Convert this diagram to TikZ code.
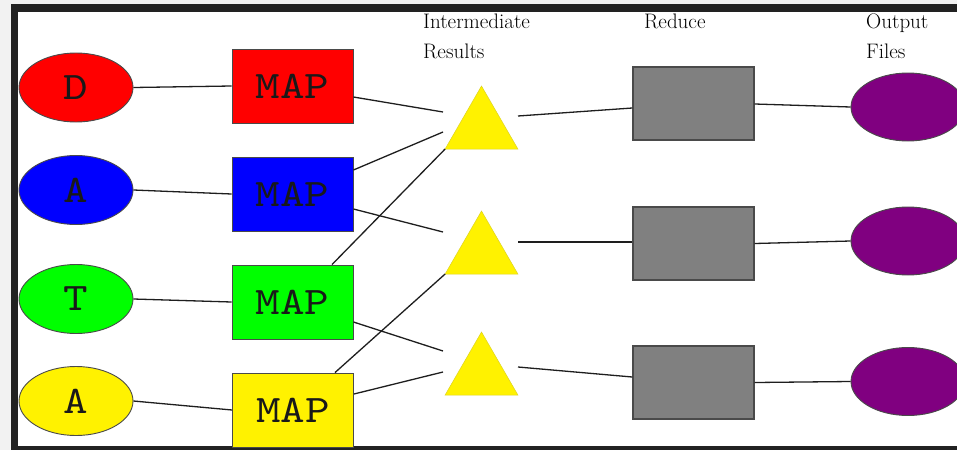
\documentclass[tikz,border=0pt]{standalone}
\usepackage{fontspec}
\newfontfamily\mapfont{lmmono10-regular}[Extension=.otf, FakeStretch=1.2]
\usetikzlibrary{shapes.geometric,calc}
\definecolor{framec}{HTML}{222222}
\definecolor{outerbg}{HTML}{F2F2F2}
\definecolor{edgec}{HTML}{4A4A4A}
\definecolor{linec}{HTML}{1E1E1E}
\definecolor{purp}{HTML}{800080}
\definecolor{redgray}{HTML}{808080}
\tikzset{
  inbox/.style={ellipse, draw=edgec, line width=0.9pt, minimum width=114pt, minimum height=69pt, inner sep=0pt,
    font=\mapfont\fontsize{39}{39}\selectfont, text=black!90},
  mapbox/.style={rectangle, draw=edgec, line width=0.9pt, minimum width=121pt, minimum height=74pt, inner sep=0pt,
    font=\mapfont\fontsize{39}{39}\selectfont, text=black!90},
  redbox/.style={rectangle, draw=edgec, fill=redgray, line width=1.4pt, minimum width=121pt, minimum height=73pt, inner sep=0pt},
  outell/.style={ellipse, draw=edgec, fill=purp, line width=0.9pt, minimum width=114pt, minimum height=68pt, inner sep=0pt},
  tri/.style={regular polygon, regular polygon sides=3, fill=yellow, draw=yellow!85!black, line width=0.5pt,
    minimum size=84pt, inner sep=0pt, outer sep=0pt},
  conn/.style={draw=linec, line width=1.3pt},
  lab/.style={anchor=base west, inner sep=0pt, text=black, font=\fontsize{21}{30}\selectfont}
}
\begin{document}
\begin{tikzpicture}[x=1pt,y=-1pt]
\useasboundingbox (0,0) rectangle (957,450);
\fill[outerbg] (0,0) rectangle (957,450);
\fill[framec] (11,4) rectangle (957,450);
\fill[white] (18,12) rectangle (957,446);

% input ellipses
\node[inbox, fill=red] (e1) at (76,87.5) {D};
\node[inbox, fill=blue] (e2) at (76,190) {A};
\node[inbox, fill=green] (e3) at (76,299) {T};
\node[inbox, fill=yellow] (e4) at (76,401) {A};

% map boxes
\node[mapbox, fill=red] (m1) at (292.5,86) {MAP};
\node[mapbox, fill=blue] (m2) at (292.5,194) {MAP};
\node[mapbox, fill=green] (m3) at (292.5,302) {MAP};
\node[mapbox, fill=yellow] (m4) at (293,410) {MAP};

% triangles
\node[tri] (t1) at (481.5,128) {};
\node[tri] (t2) at (481.5,253) {};
\node[tri] (t3) at (481.5,374) {};

% reduce boxes
\node[redbox] (r1) at (693.5,103.5) {};
\node[redbox] (r2) at (693.5,243.5) {};
\node[redbox] (r3) at (693.5,382.5) {};

% output ellipses
\node[outell] (o1) at (908,107) {};
\node[outell] (o2) at (908,241) {};
\node[outell] (o3) at (908,381.5) {};

% labels
\node[lab] (l1) at (423,28) {Intermediate};
\node[lab] (l2) at (423,58) {Results};
\node[lab] (l3) at (644,28) {Reduce};
\node[lab] (l4) at (866,28) {Output};
\node[lab] (l5) at (866,58) {Files};

% free ends near triangles
\coordinate (i1) at (443,112);
\coordinate (i2) at (443,132);
\coordinate (i3) at (443,232);
\coordinate (i4) at (443,351);
\coordinate (i5) at (443,372);
\coordinate (q1) at (518,116);
\coordinate (q2) at (518,242);
\coordinate (q3) at (518,367);

% connectors: inputs to map
\draw[conn] (e1.east) -- (m1.west);
\draw[conn] (e2.east) -- (m2.west);
\draw[conn] (e3.east) -- (m3.west);
\draw[conn] (e4.east) -- (m4.west);

% map to intermediate
\draw[conn] ($(m1.east)+(0,11)$) -- (i1);
\draw[conn] ($(m2.east)+(0,-24)$) -- (i2);
\draw[conn] ($(m3.north)+(39.5,0)$) -- (t1.corner 2);
\draw[conn] ($(m2.east)+(0,15)$) -- (i3);
\draw[conn] ($(m3.east)+(0,20)$) -- (i4);
\draw[conn] ($(m4.north)+(42,0)$) -- (t2.corner 2);
\draw[conn] ($(m4.east)+(0,-16)$) -- (i5);

% intermediate to reduce
\draw[conn] (q1) -- ($(r1.west)+(0,4.5)$);
\draw[conn] (q2) -- ($(r2.west)+(0,-1.5)$);
\draw[conn] (q3) -- ($(r3.west)+(0,-5.5)$);

% reduce to output
\draw[conn] ($(r1.east)+(0,0.5)$) -- (o1.west);
\draw[conn] (r2.east) -- (o2.west);
\draw[conn] (r3.east) -- (o3.west);
\end{tikzpicture}
\end{document}
